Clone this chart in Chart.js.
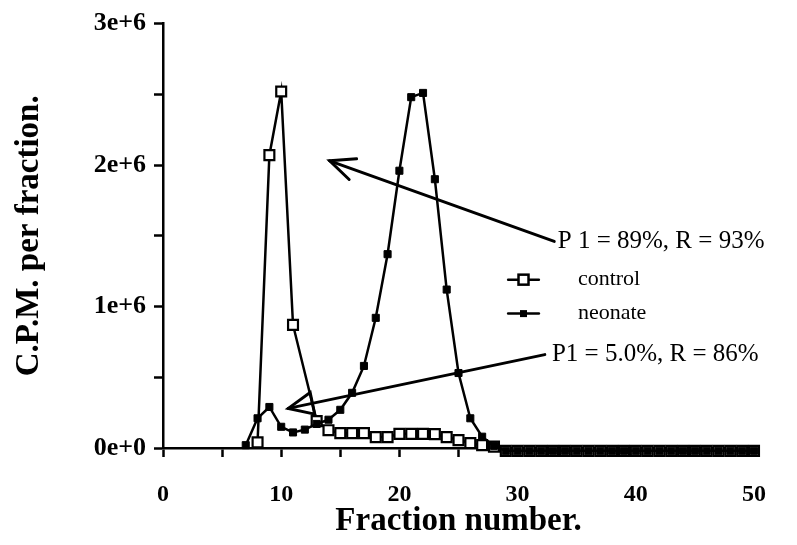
<!DOCTYPE html>
<html><head><meta charset="utf-8">
<script src="https://cdn.jsdelivr.net/npm/chart.js@4.4.0/dist/chart.umd.min.js"></script>
<style>html,body{margin:0;padding:0;background:#fff}#wrap{width:797px;height:545px}</style>
</head><body><div id="wrap"><canvas id="c" width="797" height="545"></canvas></div>
<script>
// ---- data ----
const controlFractions = [8,9,10,11,13,14,15,16,17,18,19,20,21,22,23,24,25,26,27,28,29,30,31,32,33,34,35,36,37,38,39,40,41,42,43,44,45,46,47,48,49,50];
const controlCPM = [40000,2070000,2520000,870000,190000,126000,105000,105000,105000,77000,77000,100000,100000,100000,98000,77000,56000,35000,20000,10000,-20000,-20000,-20000,-20000,-20000,-20000,-20000,-20000,-20000,-20000,-20000,-20000,-20000,-20000,-20000,-20000,-20000,-20000,-20000,-20000,-20000,-20000];
const neonateFractions = [7,8,9,10,11,12,13,14,15,16,17,18,19,20,21,22,23,24,25,26,27,28,29,30,31,32,33,34,35,36,37,38,39,40,41,42,43,44,45,46,47,48,49,50];
const neonateCPM = [20000,210000,290000,150000,110000,130000,170000,200000,270000,390000,580000,920000,1370000,1960000,2480000,2510000,1900000,1120000,530000,210000,80000,15000,-20000,-20000,-20000,-20000,-20000,-20000,-20000,-20000,-20000,-20000,-20000,-20000,-20000,-20000,-20000,-20000,-20000,-20000,-20000,-20000,-20000,-20000];
const seriesNames = ['control','neonate'];
const xTickLabels = ['0','','10','','20','','30','','40','','50'];
const yTickLabels = ['0e+0','','1e+6','','2e+6','','3e+6'];
const noteTexts = ['P 1 = 89%, R = 93%','P1 = 5.0%, R = 86%'];
const xTitle = 'Fraction number.';
const yTitle = 'C.P.M. per fraction.';

const toPoints = (xs, ys) => xs.map((x, i) => ({x: x, y: ys[i]}));

const SERIF = '"Liberation Serif", "DejaVu Serif", serif';

// annotation layout (in data units)
const annot = {
  arrows: [
    {from: [33.1, 1460000], to: [14.1, 2030000], head: 'open'},
    {from: [32.3, 660000], to: [10.6, 280000], head: 'tri'}
  ],
  notes: [
    {at: [33.4, 1460000]},
    {at: [32.9, 660000]}
  ],
  legend: {lineX: [29.2, 31.8], textX: 35.1, ys: [1190000, 950000]}
};

const annotPlugin = {
  id: 'annot',
  afterDatasetsDraw(chart) {
    const ctx = chart.ctx, xs = chart.scales.x, ys = chart.scales.y;
    const px = v => xs.getPixelForValue(v), py = v => ys.getPixelForValue(v);
    ctx.save();
    ctx.strokeStyle = '#000'; ctx.fillStyle = '#000';
    ctx.lineWidth = 3; ctx.lineCap = 'round'; ctx.lineJoin = 'miter';
    annot.arrows.forEach(a => {
      const x1 = px(a.from[0]), y1 = py(a.from[1]), x2 = px(a.to[0]), y2 = py(a.to[1]);
      ctx.beginPath(); ctx.moveTo(x1, y1); ctx.lineTo(x2, y2); ctx.stroke();
      const ang = Math.atan2(y1 - y2, x1 - x2), L = 27, sp = 0.42;
      const bx1 = x2 + L * Math.cos(ang - sp), by1 = y2 + L * Math.sin(ang - sp);
      const bx2 = x2 + L * Math.cos(ang + sp), by2 = y2 + L * Math.sin(ang + sp);
      ctx.beginPath();
      ctx.moveTo(bx1, by1); ctx.lineTo(x2, y2); ctx.lineTo(bx2, by2);
      if (a.head === 'tri') ctx.closePath();
      ctx.stroke();
    });
    // notes
    ctx.font = '25px ' + SERIF; ctx.textBaseline = 'middle'; ctx.textAlign = 'left';
    annot.notes.forEach((n, i) => ctx.fillText(noteTexts[i], px(n.at[0]), py(n.at[1])));
    // legend
    const lg = annot.legend;
    ctx.font = '22px ' + SERIF;
    seriesNames.forEach((name, i) => {
      const y = py(lg.ys[i]);
      const xa = px(lg.lineX[0]), xb = px(lg.lineX[1]), xm = (xa + xb) / 2;
      ctx.lineWidth = 2.5;
      ctx.beginPath(); ctx.moveTo(xa, y); ctx.lineTo(xb, y); ctx.stroke();
      if (i === 0) {
        ctx.fillStyle = '#fff'; ctx.fillRect(xm - 5, y - 5, 10, 10);
        ctx.lineWidth = 2.5; ctx.strokeRect(xm - 5, y - 5, 10, 10);
        ctx.fillStyle = '#000';
      } else {
        ctx.fillRect(xm - 3.5, y - 3.5, 7, 7);
      }
      ctx.fillText(name, px(lg.textX), y);
    });
    ctx.restore();
  }
};

new Chart(document.getElementById('c'), {
  type: 'line',
  data: {
    datasets: [
      {label: seriesNames[0], data: toPoints(controlFractions, controlCPM), order: 2,
       borderColor: '#000', borderWidth: 2.5, backgroundColor: '#fff',
       pointStyle: 'rect', pointRadius: 7, pointBorderWidth: 2.2, pointBackgroundColor: '#fff', pointBorderColor: '#000',
       tension: 0, clip: false},
      {label: seriesNames[1], data: toPoints(neonateFractions, neonateCPM), order: 1,
       borderColor: '#000', borderWidth: 2.5, backgroundColor: '#000',
       pointStyle: 'rect', pointRadius: 5, pointBorderWidth: 1, pointBackgroundColor: '#000', pointBorderColor: '#000',
       tension: 0, clip: false}
    ]
  },
  options: {
    responsive: false, animation: false, devicePixelRatio: 1,
    layout: {padding: {top: 20, right: 43, left: 0, bottom: 0}},
    plugins: {legend: {display: false}, tooltip: {enabled: false}},
    scales: {
      x: {
        type: 'linear', min: 0, max: 50,
        afterFit: s => { s.height = 97; },
        grid: {drawOnChartArea: false, drawTicks: true, tickLength: 9, tickWidth: 2.5, tickColor: '#000'},
        border: {display: true, color: '#000', width: 2.5},
        ticks: {stepSize: 5, autoSkip: false, maxRotation: 0, padding: 23, color: '#000',
                font: {family: SERIF, size: 24, weight: 'bold'},
                callback: (v, i) => xTickLabels[i]},
        title: {display: true, text: xTitle, color: '#000', font: {family: SERIF, size: 33, weight: 'bold'}, padding: {top: 0, bottom: 4}}
      },
      y: {
        type: 'linear', min: 0, max: 3000000,
        afterFit: s => { s.width = 163; },
        grid: {drawOnChartArea: false, drawTicks: true, tickLength: 9, tickWidth: 2.5, tickColor: '#000'},
        border: {display: true, color: '#000', width: 2.5},
        ticks: {stepSize: 500000, autoSkip: false, padding: 8, color: '#000',
                font: {family: SERIF, size: 26, weight: 'bold'},
                callback: (v, i) => yTickLabels[i]},
        title: {display: true, text: yTitle, color: '#000', font: {family: SERIF, size: 33, weight: 'bold'}, padding: {top: 10, bottom: 0}}
      }
    }
  },
  plugins: [annotPlugin]
});
</script>
</body></html>
